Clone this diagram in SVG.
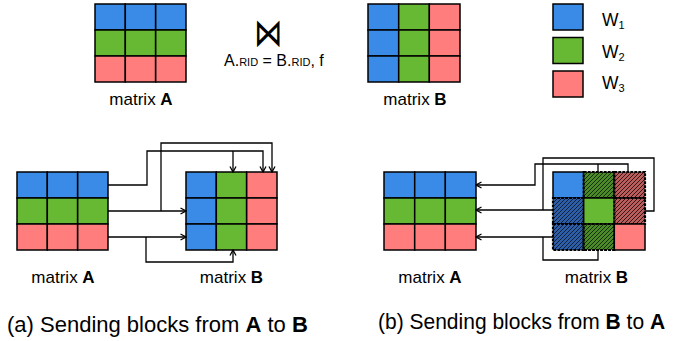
<svg xmlns="http://www.w3.org/2000/svg" width="675" height="341" viewBox="0 0 675 341">
<style>
.c{stroke:#000;stroke-width:1.5}
.b{fill:#3A8BE8}
.g{fill:#67B832}
.r{fill:#FF7D7D}
.hb{fill:url(#hatchB)}
.hg{fill:url(#hatchG)}
.hr{fill:url(#hatchR)}
.h{stroke:#000;stroke-width:2.2;stroke-dasharray:3 1}
.conn{fill:none;stroke:#000;stroke-width:1.3}
.arr{marker-end:url(#ah)}
text{font-family:"Liberation Sans",Arial,sans-serif;fill:#000}
.lbl{font-size:17px;text-anchor:middle}
.cap{font-size:22px}
.bold{font-weight:bold}
</style>
<defs>
<marker id="ah" markerWidth="8" markerHeight="8" refX="7" refY="4" orient="auto" markerUnits="userSpaceOnUse">
<path d="M1.5,1 L7,4 L1.5,7" fill="none" stroke="#000" stroke-width="1.3"/>
</marker>
<pattern id="hatchB" width="4" height="4" patternUnits="userSpaceOnUse">
<rect width="4" height="4" fill="#2D5FA8"/>
<path d="M-1,1 l2,-2 M0,4 l4,-4 M3,5 l2,-2" stroke="#0D1F3A" stroke-width="1"/>
</pattern>
<pattern id="hatchG" width="4" height="4" patternUnits="userSpaceOnUse">
<rect width="4" height="4" fill="#4C8A28"/>
<path d="M-1,1 l2,-2 M0,4 l4,-4 M3,5 l2,-2" stroke="#14300A" stroke-width="1"/>
</pattern>
<pattern id="hatchR" width="4" height="4" patternUnits="userSpaceOnUse">
<rect width="4" height="4" fill="#B85C5C"/>
<path d="M-1,1 l2,-2 M0,4 l4,-4 M3,5 l2,-2" stroke="#3A1515" stroke-width="1"/>
</pattern>
</defs>
<rect width="675" height="341" fill="#fff"/>

<!-- Top matrix A -->
<g id="topA">
<rect class="c b" x="95" y="4" width="30.3" height="26"/><rect class="c b" x="125.3" y="4" width="30.3" height="26"/><rect class="c b" x="155.7" y="4" width="30.3" height="26"/>
<rect class="c g" x="95" y="30" width="30.3" height="26"/><rect class="c g" x="125.3" y="30" width="30.3" height="26"/><rect class="c g" x="155.7" y="30" width="30.3" height="26"/>
<rect class="c r" x="95" y="56" width="30.3" height="26"/><rect class="c r" x="125.3" y="56" width="30.3" height="26"/><rect class="c r" x="155.7" y="56" width="30.3" height="26"/>
<text class="lbl" x="141" y="105">matrix <tspan class="bold">A</tspan></text>
</g>

<g id="join">
<text transform="translate(268,46) scale(0.95,1.3)" x="0" y="0" font-family="DejaVu Sans, sans-serif" font-size="30" text-anchor="middle">⋈</text>
<text x="224" y="66" font-size="16">A.<tspan font-size="11">RID</tspan> = B.<tspan font-size="11">RID</tspan>, f</text>
</g>

<!-- Top matrix B -->
<g id="topB">
<rect class="c b" x="368" y="4" width="30.7" height="26"/><rect class="c g" x="398.7" y="4" width="30.7" height="26"/><rect class="c r" x="429.3" y="4" width="30.7" height="26"/>
<rect class="c b" x="368" y="30" width="30.7" height="26"/><rect class="c g" x="398.7" y="30" width="30.7" height="26"/><rect class="c r" x="429.3" y="30" width="30.7" height="26"/>
<rect class="c b" x="368" y="56" width="30.7" height="26"/><rect class="c g" x="398.7" y="56" width="30.7" height="26"/><rect class="c r" x="429.3" y="56" width="30.7" height="26"/>
<text class="lbl" x="415" y="105">matrix <tspan class="bold">B</tspan></text>
</g>

<!-- Legend -->
<g id="legend">
<rect class="c b" x="553" y="4" width="30" height="26"/>
<rect class="c g" x="553" y="37.5" width="30" height="26"/>
<rect class="c r" x="553" y="71" width="30" height="26"/>
<text x="602" y="26" font-size="17.5">W<tspan font-size="11" dy="3">1</tspan></text>
<text x="602" y="58" font-size="17.5">W<tspan font-size="11" dy="3">2</tspan></text>
<text x="602" y="89" font-size="17.5">W<tspan font-size="11" dy="3">3</tspan></text>
</g>

<!-- (a) matrix A -->
<g id="aA">
<rect class="c b" x="17" y="172" width="30.3" height="26"/><rect class="c b" x="47.3" y="172" width="30.3" height="26"/><rect class="c b" x="77.7" y="172" width="30.3" height="26"/>
<rect class="c g" x="17" y="198" width="30.3" height="26"/><rect class="c g" x="47.3" y="198" width="30.3" height="26"/><rect class="c g" x="77.7" y="198" width="30.3" height="26"/>
<rect class="c r" x="17" y="224" width="30.3" height="26"/><rect class="c r" x="47.3" y="224" width="30.3" height="26"/><rect class="c r" x="77.7" y="224" width="30.3" height="26"/>
<text class="lbl" x="63" y="283">matrix <tspan class="bold">A</tspan></text>
</g>

<!-- (a) matrix B -->
<g id="aB">
<rect class="c b" x="186" y="172" width="30.3" height="26"/><rect class="c g" x="216.3" y="172" width="30.3" height="26"/><rect class="c r" x="246.7" y="172" width="30.3" height="26"/>
<rect class="c b" x="186" y="198" width="30.3" height="26"/><rect class="c g" x="216.3" y="198" width="30.3" height="26"/><rect class="c r" x="246.7" y="198" width="30.3" height="26"/>
<rect class="c b" x="186" y="224" width="30.3" height="26"/><rect class="c g" x="216.3" y="224" width="30.3" height="26"/><rect class="c r" x="246.7" y="224" width="30.3" height="26"/>
<text class="lbl" x="231.5" y="283">matrix <tspan class="bold">B</tspan></text>
</g>

<!-- (b) matrix A -->
<g id="bA">
<rect class="c b" x="384" y="172" width="30.7" height="26"/><rect class="c b" x="414.7" y="172" width="30.7" height="26"/><rect class="c b" x="445.3" y="172" width="30.7" height="26"/>
<rect class="c g" x="384" y="198" width="30.7" height="26"/><rect class="c g" x="414.7" y="198" width="30.7" height="26"/><rect class="c g" x="445.3" y="198" width="30.7" height="26"/>
<rect class="c r" x="384" y="224" width="30.7" height="26"/><rect class="c r" x="414.7" y="224" width="30.7" height="26"/><rect class="c r" x="445.3" y="224" width="30.7" height="26"/>
<text class="lbl" x="430" y="283">matrix <tspan class="bold">A</tspan></text>
</g>

<!-- (b) matrix B -->
<g id="bB">
<rect class="c b" x="553" y="172" width="30.7" height="26"/><rect class="h hg" x="583.7" y="172" width="30.7" height="26"/><rect class="h hr" x="614.3" y="172" width="30.7" height="26"/>
<rect class="h hb" x="553" y="198" width="30.7" height="26"/><rect class="c g" x="583.7" y="198" width="30.7" height="26"/><rect class="h hr" x="614.3" y="198" width="30.7" height="26"/>
<rect class="h hb" x="553" y="224" width="30.7" height="26"/><rect class="h hg" x="583.7" y="224" width="30.7" height="26"/><rect class="c r" x="614.3" y="224" width="30.7" height="26"/>
<text class="lbl" x="596.5" y="283">matrix <tspan class="bold">B</tspan></text>
</g>

<!-- connectors -->
<g id="connectors">
<path class="conn arr" d="M108,185 H147 V151 H263 V172"/>
<path class="conn arr" d="M233,151 V172"/>
<path class="conn arr" d="M108,211 H186"/>
<path class="conn arr" d="M161,211 V143 H272 V172"/>
<path class="conn arr" d="M108,237 H186"/>
<path class="conn arr" d="M146,237 V262 H233 V250"/>

<path class="conn arr" d="M628,172 V164 H535 V185 H476"/>
<path class="conn" d="M598,172 V164"/>
<path class="conn arr" d="M553,210 H476"/>
<path class="conn" d="M645,211 H654 V158 H543 V210"/>
<path class="conn arr" d="M553,237 H476"/>
<path class="conn" d="M598,250 V260 H543 V237"/>
</g>

<text class="cap" x="7" y="332">(a) Sending blocks from <tspan class="bold">A</tspan> to <tspan class="bold">B</tspan></text>
<text class="cap" transform="translate(378,329) scale(0.955,1)" x="0" y="0">(b) Sending blocks from <tspan class="bold">B</tspan> to <tspan class="bold">A</tspan></text>
</svg>
